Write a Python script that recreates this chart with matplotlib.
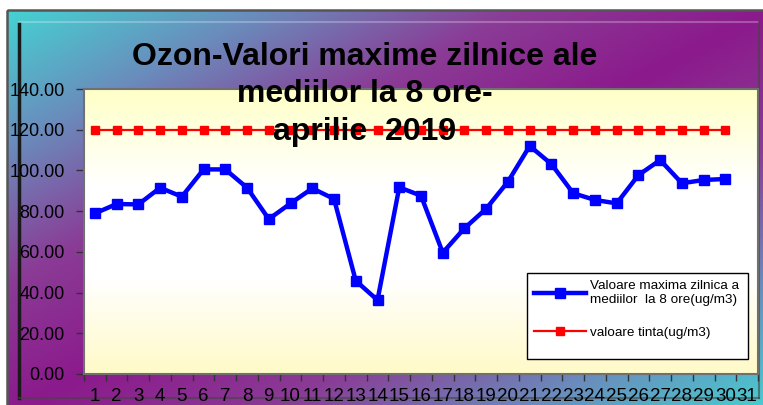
import numpy as np
import matplotlib.pyplot as plt
from matplotlib.colors import LinearSegmentedColormap
from matplotlib.patches import Rectangle

# zilele lunii (axa are 31 de categorii, datele sunt pentru 30 de zile)
days = list(range(1, 32))
data_days = list(range(1, 31))
ozon_max = [78.9, 83.5, 83.3, 91.5, 87.1, 100.5, 100.5, 91.5, 76.1, 83.8,
            91.2, 86.0, 45.8, 36.3, 91.7, 87.6, 59.6, 71.6, 81.2, 94.5,
            112.0, 103.1, 88.8, 85.5, 83.8, 97.7, 105.1, 93.7, 95.3, 95.8]
tinta = [120.0] * 30
yticks = [0, 20, 40, 60, 80, 100, 120, 140]

title_lines = ["Ozon-Valori maxime zilnice ale", "mediilor la 8 ore-", "aprilie  2019"]
label_ozon = "Valoare maxima zilnica a\nmediilor  la 8 ore(ug/m3)"
label_tinta = "valoare tinta(ug/m3)"

W, H = 763, 405
fig = plt.figure(figsize=(W / 100, H / 100), dpi=100)
fig.patch.set_facecolor("white")

# fundal cu gradient (turcoaz - mov - turcoaz pe diagonala)
bg = fig.add_axes([0, 0, 1, 1])
bg.set_xlim(0, W)
bg.set_ylim(H, 0)
bg.axis("off")
xx, yy = np.meshgrid(np.linspace(0, 1, 300), np.linspace(0, 1, 160))
t = (xx + yy) / 2.0
grad = 1 - np.abs(2 * t - 1)
cmap_bg = LinearSegmentedColormap.from_list("bg", ["#45d2d2", "#6a8cbc", "#8a3c96", "#8c1a8c"])
bg.imshow(grad, cmap=cmap_bg, extent=[7, W + 6, H + 12, 10], aspect="auto", zorder=0)
bg.set_xlim(0, W)
bg.set_ylim(H, 0)
bg.add_patch(Rectangle((7, 10), W, H + 20, fill=False, ec="#555555", lw=1.8, zorder=2))
bg.plot([19, W - 5], [22, 22], color="#ffffff", alpha=0.25, lw=1.5, zorder=2)
bg.plot([19, 19], [24, 398], color="#1a1a1a", lw=2.5, zorder=2)
bg.plot([19, W - 4], [398, 398], color="#444444", alpha=0.6, lw=1.5, zorder=2)
bg.plot([W - 4, W - 4], [22, 398], color="#444444", alpha=0.6, lw=1.5, zorder=2)

# zona graficului
left, right, top, bottom = 84, 758, 89, 374
ax = fig.add_axes([left / W, (H - bottom) / H, (right - left) / W, (bottom - top) / H])
cmap_pa = LinearSegmentedColormap.from_list("pa", ["#ffffc8", "#ffffff", "#ffffff", "#fffac8"])
ax.imshow(np.linspace(0, 1, 100).reshape(-1, 1), cmap=cmap_pa, aspect="auto",
          extent=[0.5, 31.5, 0, 140], zorder=0)

ax.plot(data_days, ozon_max, color="#0000ff", lw=3.2, marker="s", ms=7, zorder=3,
        label=label_ozon)
ax.plot(data_days, tinta, color="#ff0000", lw=1.6, marker="s", ms=6, zorder=3,
        label=label_tinta)

ax.set_xlim(0.5, 31.5)
ax.set_ylim(0, 140)
ax.set_yticks(yticks)
ax.set_yticklabels([f"{v:.2f}" for v in yticks])
ax.set_xticks(np.arange(0.5, 32, 1))
ax.set_xticklabels([])
ax.set_xticks(days, minor=True)
ax.set_xticklabels([str(d) for d in days], minor=True)
ax.tick_params(axis="x", which="major", length=5, color="#333333", width=1)
ax.tick_params(axis="x", which="minor", length=0, pad=10, labelsize=13.5,
               labelfontfamily="Liberation Sans")
ax.tick_params(axis="y", length=6, color="#333333", width=1, pad=8, labelsize=13,
               labelfontfamily="Liberation Sans")
for s in ax.spines.values():
    s.set_color("#707070")
    s.set_linewidth(1.5)

# legenda
lx0 = (527 - left) / (right - left)
ly0 = (bottom - 359) / (bottom - top)
lw_ = (748 - 527) / (right - left)
lh_ = (359 - 273) / (bottom - top)
ax.add_patch(Rectangle((lx0, ly0), lw_, lh_, transform=ax.transAxes, fc="white",
                       ec="black", lw=1.0, zorder=4))
leg = ax.legend(loc="upper left", bbox_to_anchor=(lx0, ly0 + lh_), frameon=False,
                prop={"family": "Liberation Sans", "size": 9.7}, handlelength=3.8,
                handletextpad=0.35, labelspacing=1.5, borderpad=0.55, borderaxespad=0)
leg.set_zorder(5)

# titlu
for txt, yb in zip(title_lines, [65, 102, 140]):
    fig.text(365 / W, (H - yb) / H, txt, ha="center", va="baseline",
             fontsize=23, fontweight="bold", family="Liberation Sans", zorder=10)

fig.savefig("out.png", dpi=100)
